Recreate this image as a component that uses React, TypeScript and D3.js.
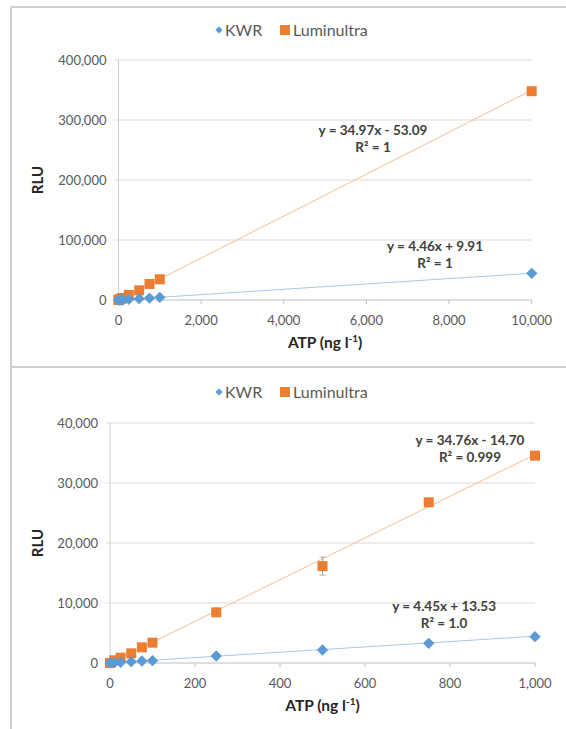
import * as d3 from "d3";

const FONT = "Lato, 'Liberation Sans', sans-serif";

// ATP standards (ng l-1) and mean RLU
const atpTop = [0, 10, 25, 50, 75, 100, 250, 500, 750, 1000, 10000];
const kwrTop = [0, 60, 110, 220, 330, 390, 1170, 2170, 3280, 4390, 44500];
const lumTop = [0, 450, 890, 1610, 2610, 3390, 8450, 16150, 26780, 34550, 348000];
const lumErrTop = [0, 0, 0, 0, 0, 0, 0, 1500, 0, 0, 0];

const atpBottom = [0, 10, 25, 50, 75, 100, 250, 500, 750, 1000];
const kwrBottom = [0, 60, 110, 220, 330, 390, 1170, 2170, 3280, 4390];
const lumBottom = [0, 450, 890, 1610, 2610, 3390, 8450, 16150, 26780, 34550];
const lumErrBottom = [0, 0, 0, 0, 0, 0, 0, 1500, 0, 0];

const xTicksTop = [0, 2000, 4000, 6000, 8000, 10000];
const yTicksTop = [0, 100000, 200000, 300000, 400000];
const xTicksBottom = [0, 200, 400, 600, 800, 1000];
const yTicksBottom = [0, 10000, 20000, 30000, 40000];

// linear trendlines [slope, intercept] and their labels
const kwrFitTop = [4.46, 9.91];
const lumFitTop = [34.97, -53.09];
const kwrFitBottom = [4.45, 13.53];
const lumFitBottom = [34.76, -14.7];
const kwrLabelTop = ["y = 4.46x + 9.91", "R² = 1"];
const lumLabelTop = ["y = 34.97x - 53.09", "R² = 1"];
const kwrLabelBottom = ["y = 4.45x + 13.53", "R² = 1.0"];
const lumLabelBottom = ["y = 34.76x - 14.70", "R² = 0.999"];

const seriesNames = ["KWR", "Luminultra"];
const BLUE = "#5b9bd5";
const ORANGE = "#ed7d31";
const BLUE_LINE = "#a9c8e8";
const ORANGE_LINE = "#f6bc98";

const fmt = d3.format(",");

function Panel({
  atp, kwr, lum, lumErr, xTicks, yTicks, kwrFit, lumFit, kwrLabel, lumLabel,
  kwrLabelAt, lumLabelAt, x0, x1, y0, y1, legendY, titleY,
}: any) {
  const x = d3.scaleLinear([0, xTicks[xTicks.length - 1]], [x0, x1]);
  const y = d3.scaleLinear([0, yTicks[yTicks.length - 1]], [y0, y1]);
  const xMax = d3.max(atp) as number;
  const fitLine = (f: number[]) =>
    d3.line<number>().x((d) => x(d)).y((d) => y(f[0] * d + f[1]))([0, xMax]);
  const sq = d3.symbol(d3.symbolSquare, 100)();
  const dia = d3.symbol(d3.symbolSquare, 64)();
  const midX = (x0 + x1) / 2;
  const midY = (y0 + y1) / 2;

  const eq = (lines: string[], at: number[]) => (
    <text x={x(at[0])} y={y(at[1])} textAnchor="middle" fontSize={13.5} fontWeight="bold" fill="#404040">
      <tspan x={x(at[0])}>{lines[0]}</tspan>
      <tspan x={x(at[0])} dy={17}>{lines[1]}</tspan>
    </text>
  );

  return (
    <g fontFamily={FONT}>
      {/* legend */}
      <g transform={`translate(0,${legendY})`}>
        <path d={d3.symbol(d3.symbolSquare, 26)()} transform="translate(219,0) rotate(45)" fill={BLUE} />
        <text x={225} dy="0.35em" fontSize={16} fill="#595959">{seriesNames[0]}</text>
        <path d={d3.symbol(d3.symbolSquare, 100)()} transform="translate(285,0)" fill={ORANGE} />
        <text x={293} dy="0.35em" fontSize={16} fill="#595959">{seriesNames[1]}</text>
      </g>

      {/* gridlines and y ticks */}
      {yTicks.map((t: number) => (
        <g key={t}>
          <line x1={x0 - 4} x2={x1} y1={y(t)} y2={y(t)} stroke={t === 0 ? "#bfbfbf" : "#d9d9d9"} />
          <text x={x0 - 12} y={y(t)} dy="0.35em" textAnchor="end" fontSize={13} fill="#595959">{fmt(t)}</text>
        </g>
      ))}
      <line x1={x0} x2={x0} y1={y1} y2={y0} stroke="#d0d0d0" />
      {xTicks.map((t: number) => (
        <g key={t}>
          <line x1={x(t)} x2={x(t)} y1={y0} y2={y0 + 4} stroke="#bfbfbf" />
          <text x={x(t)} y={y0 + 20} dy="0.35em" textAnchor="middle" fontSize={13} fill="#595959">{fmt(t)}</text>
        </g>
      ))}

      {/* axis titles */}
      <text transform={`translate(38,${midY}) rotate(-90)`} textAnchor="middle" dy="0.35em"
        fontSize={15} fontWeight="bold" fill="#262626">RLU</text>
      <text x={midX} y={titleY} textAnchor="middle" fontSize={15.5} fontWeight="bold" fill="#262626">
        ATP (ng l<tspan dy={-6} fontSize={10}>-1</tspan><tspan dy={6}>)</tspan>
      </text>

      {/* trendlines */}
      <path d={fitLine(lumFit) as string} stroke={ORANGE_LINE} strokeWidth={1} fill="none" />
      <path d={fitLine(kwrFit) as string} stroke={BLUE_LINE} strokeWidth={1} fill="none" />

      {/* error bars */}
      {atp.map((a: number, i: number) =>
        lumErr[i] > 0 ? (
          <g key={"e" + i} stroke="#b0a49c" strokeWidth={1}>
            <line x1={x(a)} x2={x(a)} y1={y(lum[i] - lumErr[i])} y2={y(lum[i] + lumErr[i])} />
            <line x1={x(a) - 3} x2={x(a) + 3} y1={y(lum[i] - lumErr[i])} y2={y(lum[i] - lumErr[i])} />
            <line x1={x(a) - 3} x2={x(a) + 3} y1={y(lum[i] + lumErr[i])} y2={y(lum[i] + lumErr[i])} />
          </g>
        ) : null
      )}

      {/* markers */}
      {atp.map((a: number, i: number) => (
        <path key={"l" + i} d={sq} transform={`translate(${x(a)},${y(lum[i])})`} fill={ORANGE} />
      ))}
      {atp.map((a: number, i: number) => (
        <path key={"k" + i} d={dia} transform={`translate(${x(a)},${y(kwr[i])}) rotate(45)`} fill={BLUE} />
      ))}

      {eq(lumLabel, lumLabelAt)}
      {eq(kwrLabel, kwrLabelAt)}
    </g>
  );
}

export default function App() {
  return (
    <svg width={566} height={729} style={{ position: "absolute", left: 0, top: 0, background: "#fff" }}>
      <rect width={566} height={729} fill="#fff" />
      <g stroke="#d0d0d0" strokeWidth={2}>
        <line x1={11} x2={566} y1={7} y2={7} />
        <line x1={11} x2={11} y1={7} y2={729} />
        <line x1={11} x2={566} y1={367} y2={367} />
      </g>
      <Panel
        atp={atpTop} kwr={kwrTop} lum={lumTop} lumErr={lumErrTop}
        xTicks={xTicksTop} yTicks={yTicksTop}
        kwrFit={kwrFitTop} lumFit={lumFitTop}
        kwrLabel={kwrLabelTop} lumLabel={lumLabelTop}
        kwrLabelAt={[7660, 82000]} lumLabelAt={[6160, 275000]}
        x0={118.5} x1={531.7} y0={300} y1={60} legendY={30} titleY={348}
      />
      <Panel
        atp={atpBottom} kwr={kwrBottom} lum={lumBottom} lumErr={lumErrBottom}
        xTicks={xTicksBottom} yTicks={yTicksBottom}
        kwrFit={kwrFitBottom} lumFit={lumFitBottom}
        kwrLabel={kwrLabelBottom} lumLabel={lumLabelBottom}
        kwrLabelAt={[786, 8700]} lumLabelAt={[847, 36400]}
        x0={110} x1={535} y0={663} y1={423} legendY={392} titleY={711}
      />
    </svg>
  );
}
